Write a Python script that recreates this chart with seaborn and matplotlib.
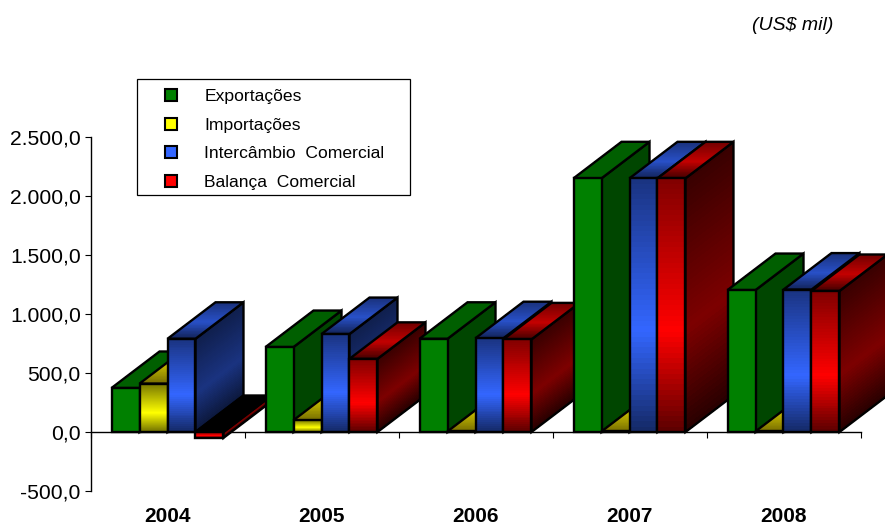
import numpy as np
import pandas as pd
import matplotlib
matplotlib.use("Agg")
import matplotlib.pyplot as plt
from matplotlib.collections import PolyCollection
from matplotlib.lines import Line2D
from matplotlib.patches import Polygon, Rectangle
from matplotlib.ticker import FixedLocator
import seaborn as sns

years = ["2004", "2005", "2006", "2007", "2008"]
exportacoes = [373, 720, 790, 2150, 1203]
importacoes = [410, 100, 5, 5, 5]
intercambio = [790, 830, 795, 2150, 1207]
balanca = [-50, 620, 785, 2150, 1195]
series_names = ["Exportações", "Importações", "Intercâmbio  Comercial", "Balança  Comercial"]
yticks = [-500, 0, 500, 1000, 1500, 2000, 2500]
ytick_labels = ["-500,0", "0,0", "500,0", "1.000,0", "1.500,0", "2.000,0", "2.500,0"]

sns.set_theme(style="white")
plt.rcParams["font.family"] = ["Liberation Sans", "DejaVu Sans"]

W, H = 885, 526
fig = plt.figure(figsize=(W / 100, H / 100), dpi=100, facecolor="white")
ax = fig.add_axes([90.5 / W, 1 - 491 / H, 770 / W, 354 / H])

df = pd.DataFrame({
    "ano": years * 4,
    "serie": np.repeat(series_names, 5),
    "valor": exportacoes + importacoes + intercambio + balanca,
})
palette = dict(zip(series_names, ["#008000", "#ffff00", "#3366ff", "#ff0000"]))
sns.barplot(data=df, x="ano", y="valor", hue="serie", order=years, hue_order=series_names,
            palette=palette, width=0.727, gap=0, saturation=1, legend=False,
            errorbar=None, ax=ax)

c = lambda *v: np.array(v) / 255
shades = {
    0: dict(front=[c(0, 128, 0)] * 3, side=[c(0, 70, 0)] * 3, top=[c(0, 95, 0)] * 3),
    1: dict(front=[c(120, 120, 0), c(255, 255, 0), c(110, 110, 0)],
            side=[c(70, 70, 0), c(128, 128, 0), c(60, 60, 0)],
            top=[c(100, 95, 0), c(190, 180, 0), c(120, 110, 0)]),
    2: dict(front=[c(26, 51, 128), c(51, 102, 255), c(20, 40, 100)],
            side=[c(15, 30, 75), c(26, 51, 128), c(12, 24, 60)],
            top=[c(25, 48, 120), c(40, 80, 200), c(18, 36, 90)]),
    3: dict(front=[c(128, 0, 0), c(255, 0, 0), c(90, 0, 0)],
            side=[c(55, 0, 0), c(125, 0, 0), c(40, 0, 0)],
            top=[c(110, 0, 0), c(195, 0, 0), c(70, 0, 0)]),
}
DX = 48 / 154          # depth in category units
DY = 36.5 / 59 * 500   # depth in value units
LW = 1.7


def ramp(stops, n, mid):
    t = (np.arange(n) + 0.5) / n
    arr = np.array(stops)
    return np.stack([np.interp(t, [0, mid, 1], arr[:, k]) for k in range(3)], axis=1)


def face(tl, tr, br, bl, stops, z, mid=0.6):
    n = 48
    t = np.linspace(0, 1, n + 1)[:, None]
    tl, tr, br, bl = map(np.array, (tl, tr, br, bl))
    left = tl + (bl - tl) * t
    right = tr + (br - tr) * t
    verts = [[left[i], right[i], right[i + 1], left[i + 1]] for i in range(n)]
    colors = ramp(stops, n, mid)
    ax.add_collection(PolyCollection(verts, facecolors=colors, edgecolors="none", linewidths=0,
                                     antialiaseds=False, zorder=z, clip_on=False,
                                     transform=ax.transData),
                      autolim=False)
    ax.add_patch(Polygon(np.array([tl, tr, br, bl]), closed=True, fill=False, edgecolor="black",
                         lw=LW, joinstyle="miter", zorder=z + 0.1, clip_on=False))


for s, cont in enumerate(ax.containers):
    st = shades[s]
    for k, bar in enumerate(cont.patches):
        x0, x1 = bar.get_x(), bar.get_x() + bar.get_width()
        y_a, y_b = bar.get_y(), bar.get_y() + bar.get_height()
        lo, hi = min(y_a, y_b), max(y_a, y_b)
        neg = hi <= 0
        z = 3 + k * 4 + s * 0.8
        face((x1, hi), (x1 + DX, hi + DY), (x1 + DX, lo + DY), (x1, lo), st["side"], z)
        top_stops = [c(0, 0, 0)] * 3 if neg else st["top"]
        face((x0 + DX, hi + DY), (x1 + DX, hi + DY), (x1, hi), (x0, hi), top_stops, z + 0.2, mid=0.55)
        face((x0, hi), (x1, hi), (x1, lo), (x0, lo), st["front"], z + 0.4)
        bar.set_visible(False)

ax.set_xlim(-0.5, 4.5)
ax.set_ylim(-500, 2500)
ax.set_xlabel("")
ax.set_ylabel("")
ax.set_facecolor("none")

for side in ("top", "right"):
    ax.spines[side].set_visible(False)
ax.spines["bottom"].set_position(("data", 0))
for side in ("left", "bottom"):
    ax.spines[side].set_color("black")
    ax.spines[side].set_linewidth(1.0)

ax.set_yticks(yticks)
ax.set_yticklabels(ytick_labels)
ax.tick_params(axis="y", left=True, length=4, width=0.8, color="black", pad=3,
               labelsize=15.2, labelcolor="black")
ax.set_xticks(range(5))
ax.set_xticklabels(years, fontweight="bold")
ax.tick_params(axis="x", which="major", bottom=False, length=0, pad=54, labelsize=15, labelcolor="black")
ax.xaxis.set_minor_locator(FixedLocator(np.arange(-0.5, 5)))
ax.tick_params(axis="x", which="minor", bottom=True, length=4, width=0.8, color="black")

# legend
fig.add_artist(Rectangle((136.5 / W, 1 - 195 / H), 273.5 / W, 116 / H, transform=fig.transFigure,
                         facecolor="white", edgecolor="black", lw=0.9, zorder=20))
handles = [Line2D([], [], ls="none", marker="s", ms=8, mew=1.5, mec="black", mfc=palette[n])
           for n in series_names]
leg = fig.legend(handles, series_names, loc="upper left", bbox_to_anchor=(136 / W, 1 - 80 / H),
                 bbox_transform=fig.transFigure, frameon=False, fontsize=12.6, labelcolor="black",
                 borderpad=0.5, borderaxespad=0, handlelength=2.95, handletextpad=0.46, labelspacing=0.77)
leg.set_zorder(21)

fig.text(833 / W, 1 - 26 / H, "(US$ mil)", ha="right", va="center", fontsize=14,
         style="italic", color="black")

fig.savefig("out.png", dpi=100, facecolor="white")
